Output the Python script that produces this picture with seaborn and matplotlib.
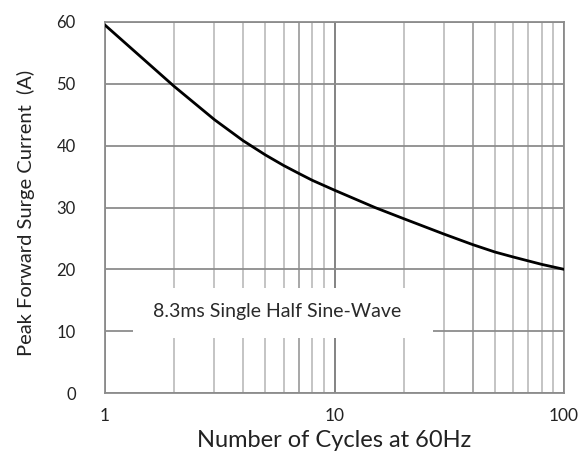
import matplotlib
matplotlib.use("Agg")
import matplotlib.pyplot as plt
import matplotlib.ticker as mticker
from matplotlib.patches import Rectangle
import seaborn as sns
import pandas as pd

cycles = [1, 2, 3, 4, 5, 6, 7, 8, 10, 15, 20, 30, 40, 50, 60, 80, 100]
current = [59.5, 49.6, 44.2, 40.8, 38.5, 36.8, 35.5, 34.4, 32.8, 30.0, 28.2, 25.7, 24.0, 22.8, 22.0, 20.8, 20.0]
y_ticks = [0, 10, 20, 30, 40, 50, 60]
x_ticks = [1, 10, 100]
x_tick_labels = ["1", "10", "100"]
dark_grid_x = [7, 40]
note = "8.3ms Single Half Sine-Wave"
x_label = "Number of Cycles at 60Hz"
y_label = "Peak Forward Surge Current  (A)"

sns.set_theme(style="white")
plt.rcParams['font.family'] = ['Lato', 'DejaVu Sans']

df = pd.DataFrame({"cycles": cycles, "current": current})

fig = plt.figure(figsize=(5.79, 4.55), dpi=100)
ax = fig.add_axes([105/579, 1-393/455, (564-105)/579, (393-22)/455])

ax.set_xscale("log")
ax.set_xlim(1, 100)
ax.set_ylim(0, 60)

ax.xaxis.set_major_locator(mticker.FixedLocator(x_ticks))
ax.xaxis.set_major_formatter(mticker.FixedFormatter(x_tick_labels))
ax.xaxis.set_minor_locator(mticker.LogLocator(base=10, subs=range(2, 10)))
ax.xaxis.set_minor_formatter(mticker.NullFormatter())
ax.yaxis.set_major_locator(mticker.FixedLocator(y_ticks))

ax.grid(True, which="major", axis="x", color="#7a7a7a", lw=1.3)
ax.grid(True, which="minor", axis="x", color="#b4b4b4", lw=1.1)
ax.grid(True, which="major", axis="y", color="#8c8c8c", lw=1.3)
for gx in dark_grid_x:
    ax.axvline(gx, color="#7a7a7a", lw=1.3, zorder=0.5)
ax.set_axisbelow(True)

for s in ax.spines.values():
    s.set_color("#8c8c8c")
    s.set_linewidth(1.3)

ax.tick_params(axis="both", which="both", length=0, colors="#222222")
ax.tick_params(axis="y", labelsize=12, pad=21)
ax.tick_params(axis="x", labelsize=12.5, pad=11)

sns.lineplot(data=df, x="cycles", y="current", ax=ax, color="black", lw=2.0, zorder=5)

ax.add_patch(Rectangle((28/459, (393-338)/371), 300/459, 50/371, transform=ax.transAxes,
                       facecolor="white", edgecolor="none", zorder=3))
ax.text((277.5-105)/459, (393-312)/371, note, transform=ax.transAxes, ha="center", va="center",
        fontsize=14, color="#2a2a2a", zorder=6)

ax.set_xlabel(x_label, fontsize=17, color="#222222", labelpad=4)
ax.set_ylabel(y_label, fontsize=14.5, color="#222222")
ax.yaxis.set_label_coords(-(105-35)/459, (393-213)/371)

fig.savefig("out.png", dpi=100)
